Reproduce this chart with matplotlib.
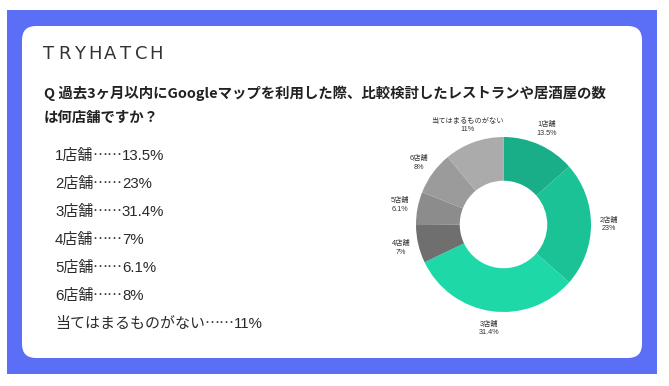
import numpy as np
import matplotlib.pyplot as plt
from matplotlib.patches import FancyBboxPatch, Rectangle

plt.rcParams['font.family'] = ['Noto Sans CJK JP', 'DejaVu Sans']
latin_font = ['Liberation Sans', 'Noto Sans CJK JP']

# データ
labels = ['1店舗', '2店舗', '3店舗', '4店舗', '5店舗', '6店舗', '当てはまるものがない']
values = [13.5, 23, 31.4, 7, 6.1, 8, 11]
value_text = ['13.5%', '23%', '31.4%', '7%', '6.1%', '8%', '11%']
colors = ['#1aae88', '#1ac296', '#1ed8a8', '#6f6f6f', '#8c8c8c', '#9b9b9b', '#ababab']

title_lines = ['Q 過去3ヶ月以内にGoogleマップを利用した際、比較検討したレストランや居酒屋の数',
               'は何店舗ですか？']
logo = 'TRYHATCH'

W, H = 669, 386
fig = plt.figure(figsize=(W / 100, H / 100), dpi=100)
fig.patch.set_facecolor('white')

# 背景（ピクセル座標）
bg = fig.add_axes([0, 0, 1, 1])
bg.set_xlim(0, W)
bg.set_ylim(H, 0)
bg.axis('off')
bg.add_patch(Rectangle((7, 10), 650, 364, facecolor='#5a6ff6', edgecolor='none'))
bg.add_patch(FancyBboxPatch((22, 26), 620, 332, boxstyle='round,pad=0,rounding_size=14',
                            facecolor='white', edgecolor='none'))

# ロゴ（字間を広めに1文字ずつ配置）
for i, ch in enumerate(logo):
    bg.text(49 + i * 15.3, 54, ch, fontsize=13, color='#333333',
            family='DejaVu Sans', va='center', ha='center')

# 設問
bg.text(44, 93, title_lines[0], fontsize=10.4, fontweight='bold', color='#222222',
        va='center', ha='left')
bg.text(44, 118, title_lines[1], fontsize=10.4, fontweight='bold', color='#222222',
        va='center', ha='left')

# 一覧（ラベル → 点線 → 数値 を順につなげる）
fs = 10.8
for i, (lab, vt) in enumerate(zip(labels, value_text)):
    t1 = bg.text(55, 156 + i * 28, lab, fontsize=fs, color='#2a2a2a',
                 family=latin_font, va='center', ha='left')
    t2 = bg.annotate('……', xy=(1, 0.5), xycoords=t1, xytext=(-0.5, 0), textcoords='offset points',
                     fontsize=fs, color='#2a2a2a', va='center', ha='left')
    bg.annotate(vt, xy=(1, 0.5), xycoords=t2, xytext=(-0.5, 0), textcoords='offset points',
                fontsize=fs, color='#2a2a2a', family=latin_font, va='center', ha='left')

# ドーナツ
cx, cy, r = 503.5, 224.5, 87.5
size = r * 2.8
ax = fig.add_axes([(cx - size / 2) / W, (H - cy - size / 2) / H, size / W, size / H])
wedges, _ = ax.pie(values, colors=colors, startangle=90, counterclock=False,
                   wedgeprops=dict(width=0.5, edgecolor='none'))
ax.set_xlim(-1.4, 1.4)
ax.set_ylim(-1.4, 1.4)
ax.set_aspect('equal')
ax.axis('off')

for w, lab, vt in zip(wedges, labels, value_text):
    ang = np.deg2rad((w.theta1 + w.theta2) / 2)
    x, y = 1.2 * np.cos(ang), 1.2 * np.sin(ang)
    ax.text(x, y, f'{lab}\n{vt}', fontsize=5.2, color='#333333', ha='center', va='center',
            family=latin_font, linespacing=1.3)

fig.savefig('out.png', dpi=100)
